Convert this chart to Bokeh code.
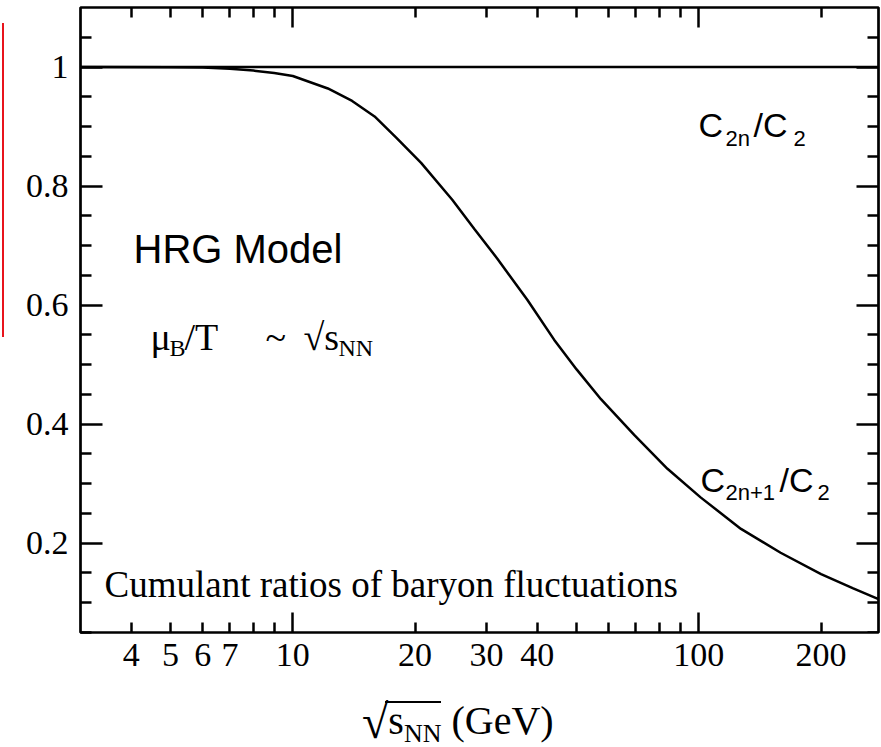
from bokeh.plotting import figure
from bokeh.layouts import column
from bokeh.models import (LogAxis, LinearAxis, FixedTicker, CustomJSTickFormatter,
                          Label, Range1d, Div, InlineStyleSheet)
from bokeh.embed import file_html
from bokeh.resources import INLINE

# ---- data ----
sqrt_s = [3.0, 5, 6, 7, 8, 9, 10, 12.2, 14, 15.9, 18, 20.7, 24.7, 28, 31.9, 37.8,
          44, 50, 57.4, 69.3, 83.7, 101, 127, 159, 200, 240, 277]
odd_ratio = [1.0, 0.9995, 0.999, 0.997, 0.994, 0.990, 0.985, 0.964, 0.943, 0.917,
             0.881, 0.839, 0.777, 0.728, 0.678, 0.609, 0.542, 0.492, 0.442, 0.382,
             0.325, 0.277, 0.224, 0.184, 0.148, 0.124, 0.106]
even_x = [3.0, 277]
even_ratio = [1.0, 1.0]

x_labels = [4, 5, 6, 7, 10, 20, 30, 40, 100, 200]
x_long_ticks = [10, 100]
x_short_ticks = [4, 5, 6, 7, 8, 9, 20, 30, 40, 50, 60, 70, 80, 90, 200]
y_major = [0.2, 0.4, 0.6, 0.8, 1.0]
y_minor = [0.05, 0.1, 0.15, 0.25, 0.3, 0.35, 0.45, 0.5, 0.55, 0.65, 0.7, 0.75,
           0.85, 0.9, 0.95, 1.05]

X_MIN, X_MAX = 3.0, 277
Y_MIN, Y_MAX = 0.05, 1.1

SERIF = "Liberation Serif"
SANS = "Liberation Sans"

p = figure(width=881, height=690, x_axis_type="log",
           x_range=Range1d(X_MIN, X_MAX), y_range=Range1d(Y_MIN, Y_MAX),
           output_backend="svg", toolbar_location=None,
           min_border_left=80, min_border_right=3, min_border_top=7,
           min_border_bottom=58)
p.grid.visible = False
p.outline_line_color = "black"
p.outline_line_width = 2.7
p.background_fill_color = "white"
p.border_fill_color = "white"

TW = 2.5

# left axis with labels
ya = p.yaxis[0]
ya.ticker = FixedTicker(ticks=y_major, minor_ticks=y_minor)
ya.formatter = CustomJSTickFormatter(code="return tick == 1 ? '1' : tick.toFixed(1)")
ya.major_tick_in = 22
ya.major_tick_out = 0
ya.minor_tick_in = 11
ya.minor_tick_out = 0
ya.major_tick_line_width = TW
ya.minor_tick_line_width = TW
ya.axis_line_color = None
ya.major_label_text_font = SERIF
ya.major_label_text_font_size = "34px"
ya.major_label_text_color = "black"
ya.major_label_standoff = 12

# bottom axis: labels only
xa = p.xaxis[0]
xa.ticker = FixedTicker(ticks=x_labels, minor_ticks=[])
xa.formatter = CustomJSTickFormatter(code="return String(tick)")
xa.major_tick_line_color = None
xa.minor_tick_line_color = None
xa.major_tick_in = 0
xa.major_tick_out = 0
xa.axis_line_color = None
xa.major_label_text_font = SERIF
xa.major_label_text_font_size = "34px"
xa.major_label_text_color = "black"
xa.major_label_standoff = 11


def tick_axis(cls, loc, fixed):
    is_x = cls is LogAxis
    ax = cls(fixed_location=fixed,
             ticker=FixedTicker(ticks=x_long_ticks if is_x else y_major,
                                minor_ticks=x_short_ticks if is_x else y_minor),
             major_tick_in=20 if is_x else 22, major_tick_out=0,
             minor_tick_in=10 if is_x else 11, minor_tick_out=0,
             major_tick_line_width=TW, minor_tick_line_width=TW,
             axis_line_color=None, major_label_text_color=None,
             formatter=CustomJSTickFormatter(code="return ''"))
    p.add_layout(ax, loc)


tick_axis(LogAxis, "below", Y_MIN)
tick_axis(LogAxis, "above", Y_MAX)
tick_axis(LinearAxis, "right", X_MAX)

# curves
p.line(even_x, even_ratio, line_color="black", line_width=2.5)
p.line(sqrt_s, odd_ratio, line_color="black", line_width=2.5)

# ---- texts (positions in screen px relative to the frame) ----
FL, FB = 80, 633


def txt(text, px, py, size, font):
    p.add_layout(Label(x=px - FL, y=FB - py, x_units="screen", y_units="screen",
                       text=text, text_font=font, text_font_size=f"{size}px",
                       text_color="black", text_baseline="alphabetic",
                       text_align="left"))


txt("HRG Model", 133, 249, 40, SANS)

txt("C", 698, 125, 34, SANS)
txt("2n", 725, 139, 22, SANS)
txt("/C", 753, 125, 34, SANS)
txt("2", 793, 139, 22, SANS)

txt("C", 700, 480, 34, SANS)
txt("2n+1", 725, 493, 22, SANS)
txt("/C", 779, 480, 34, SANS)
txt("2", 817, 493, 22, SANS)

txt("\u03bc", 150, 337, 38, SERIF)
txt("B", 169, 348, 24, SERIF)
txt("/T", 184, 337, 38, SERIF)
txt("~", 265, 337, 38, SERIF)
txt("\u221as", 303, 337, 38, SERIF)
txt("NN", 338, 348, 24, SERIF)

txt("Cumulant ratios of baryon fluctuations", 104, 585, 37, SERIF)

# red edge mark at the far left of the reference picture
p.stylesheets = [InlineStyleSheet(css=(
    ":host::after { content: ''; position: absolute; left: 2px; top: 23px;"
    " width: 1.5px; height: 314px; background: #e8141c; z-index: 100; }"))]

# x-axis title as HTML below the figure
title_html = (
    "<div style=\"font-family:'Liberation Serif'; font-size:40px; line-height:40px;"
    " white-space:nowrap; padding-top:8px; margin-left:362px; color:black;\">"
    "<span style=\"font-size:48px; position:relative; top:4px;\">\u221a</span>"
    "<span style=\"position:relative;\">s<span style=\"font-size:26px;"
    " position:relative; top:8px;\">NN</span>"
    "<span style=\"position:absolute; left:-3px; right:0; top:3px;"
    " border-top:2px solid black;\"></span></span> (GeV)</div>"
)
title = Div(text=title_html, width=881, height=57, margin=0)

layout = column(p, title, spacing=0)
open("out.html", "w").write(file_html(layout, INLINE))
